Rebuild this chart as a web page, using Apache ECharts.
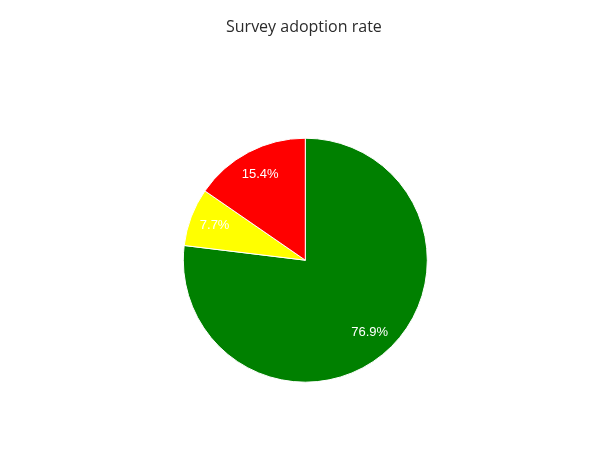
<!DOCTYPE html>
<html>
<head>
  <meta charset="utf-8">
  <title>Survey adoption rate</title>
  <script src="https://cdn.jsdelivr.net/npm/echarts@6/dist/echarts.min.js"></script>
  <style>
    html, body { margin: 0; padding: 0; background: #fff; }
    #main { width: 595px; height: 449px; }
  </style>
</head>
<body>
  <div id="main"></div>
  <script type="text/javascript">
    // survey answers, clockwise from 12 o'clock
    var categories = ['Adopted', 'Undecided', 'Not adopted'];
    var counts = [10, 1, 2];
    var colors = ['#008000', '#ffff00', '#ff0000'];

    var total = counts.reduce(function (a, b) { return a + b; }, 0);

    var pieData = categories.map(function (name, i) {
      return { name: name, value: counts[i], itemStyle: { color: colors[i] } };
    });

    var myChart = echarts.init(document.getElementById('main'));

    var option = {
      animation: false,
      title: {
        text: 'Survey adoption rate',
        left: 226,
        top: 19,
        padding: 0,
        textStyle: {
          fontFamily: 'Open Sans',
          fontSize: 16,
          fontWeight: 'normal',
          color: '#2b2b2b'
        }
      },
      series: [
        {
          // the visible pie
          type: 'pie',
          center: [305.3, 260.2],
          radius: [0, 122],
          startAngle: 90,
          silent: true,
          itemStyle: { borderColor: '#fff', borderWidth: 1 },
          label: { show: false },
          labelLine: { show: false },
          data: pieData
        },
        {
          // transparent ring, only used to place the percentages further out
          type: 'pie',
          center: [305.3, 260.2],
          radius: [66, 122],
          startAngle: 90,
          silent: true,
          itemStyle: { color: 'transparent', borderWidth: 0 },
          label: {
            show: true,
            position: 'inside',
            color: '#fff',
            fontFamily: 'Arial',
            fontSize: 13,
            formatter: function (p) {
              return (p.value / total * 100).toFixed(1) + '%';
            }
          },
          labelLine: { show: false },
          data: counts.map(function (v, i) { return { name: categories[i], value: v }; })
        }
      ]
    };

    myChart.setOption(option);
  </script>
</body>
</html>
